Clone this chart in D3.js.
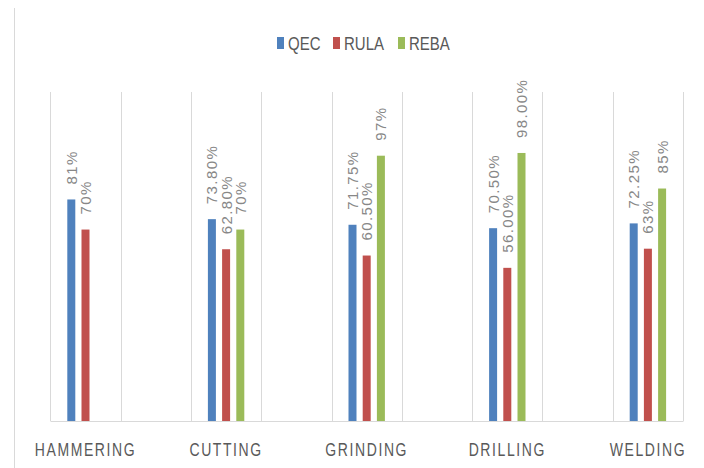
<!DOCTYPE html>
<html>
<head>
<meta charset="utf-8">
<script src="https://cdn.jsdelivr.net/npm/d3@7/dist/d3.min.js"></script>
<style>
  html, body { margin: 0; padding: 0; background: #ffffff; }
  svg { display: block; }
  text { font-family: "Liberation Sans", Arial, sans-serif; }
</style>
</head>
<body>
<svg id="chart" width="704" height="468"></svg>
<script>
// Tasks assessed and the three ergonomic methods compared
const categories = ["HAMMERING", "CUTTING", "GRINDING", "DRILLING", "WELDING"];
const series = ["QEC", "RULA", "REBA"];
const colors = ["#4F81BD", "#C0504D", "#9BBB59"];

// Scores per method (fraction); null = not assessed
const qecValues  = [0.81, 0.738, 0.7175, 0.705, 0.7225];
const rulaValues = [0.70, 0.628, 0.605, 0.56, 0.63];
const rebaValues = [null, 0.70, 0.97, 0.98, 0.85];

// Data labels as shown for each bar
const qecLabels  = ["81%", "73.80%", "71.75%", "70.50%", "72.25%"];
const rulaLabels = ["70%", "62.80%", "60.50%", "56.00%", "63%"];
const rebaLabels = [null, "70%", "97%", "98.00%", "85%"];

const values = [qecValues, rulaValues, rebaValues];
const labels = [qecLabels, rulaLabels, rebaLabels];

const svg = d3.select("#chart");

// Outer frame edge on the left
svg.append("line")
  .attr("x1", 14.5).attr("x2", 14.5)
  .attr("y1", 8).attr("y2", 468)
  .attr("stroke", "#d9d9d9").attr("stroke-width", 1);

const x = d3.scaleBand().domain(categories).range([15.2, 718.2]).padding(0);
const bw = x.bandwidth();
const xs = d3.scalePoint().domain(series).range([-14.2, 14.2]);
const y = d3.scaleLinear().domain([0, 1]).range([421, 147.5]);
const barW = 8;
const gridTop = 92;

// Vertical gridlines between groups
const gridXs = [];
categories.forEach(c => {
  const cx = x(c) + bw / 2;
  gridXs.push(cx - bw / 4, cx + bw / 4);
});
svg.append("g").selectAll("line").data(gridXs).join("line")
  .attr("x1", d => Math.round(d) + 0.5).attr("x2", d => Math.round(d) + 0.5)
  .attr("y1", gridTop).attr("y2", y(0))
  .attr("stroke", "#d9d9d9").attr("stroke-width", 1);

// Category axis line
svg.append("line")
  .attr("x1", Math.round(gridXs[0]) + 0.5)
  .attr("x2", Math.round(gridXs[gridXs.length - 1]) + 0.5)
  .attr("y1", y(0) + 0.5).attr("y2", y(0) + 0.5)
  .attr("stroke", "#d9d9d9").attr("stroke-width", 1.2);

// Bars and rotated value labels
series.forEach((s, si) => {
  const g = svg.append("g");
  const pts = categories.map((c, ci) => ({
    c, v: values[si][ci], lab: labels[si][ci]
  })).filter(d => d.v != null);

  g.selectAll("rect").data(pts).join("rect")
    .attr("x", d => x(d.c) + bw / 2 + xs(s) - barW / 2)
    .attr("y", d => y(d.v))
    .attr("width", barW)
    .attr("height", d => y(0) - y(d.v))
    .attr("fill", colors[si]);

  g.selectAll("text").data(pts).join("text")
    .attr("transform", d => {
      const cx = x(d.c) + bw / 2 + xs(s);
      return `translate(${cx},${y(d.v) - 15}) rotate(-90)`;
    })
    .attr("dy", "0.36em")
    .attr("text-anchor", "start")
    .attr("font-size", 15)
    .attr("letter-spacing", 1.4)
    .attr("fill", "#878787")
    .text(d => d.lab);
});

// Category labels
svg.append("g").selectAll("text").data(categories).join("text")
  .attr("transform", d => `translate(${x(d) + bw / 2},456) scale(1,1.3)`)
  .attr("text-anchor", "middle")
  .attr("font-size", 14)
  .attr("letter-spacing", 1.6)
  .attr("fill", "#595959")
  .text(d => d);

// Legend
const legendX = [277, 333, 398];
const lg = svg.append("g");
series.forEach((s, i) => {
  lg.append("rect")
    .attr("x", legendX[i]).attr("y", 37)
    .attr("width", 7).attr("height", 12)
    .attr("fill", colors[i]);
  lg.append("text")
    .attr("transform", `translate(${legendX[i] + 11},49.5) scale(1,1.25)`)
    .attr("font-size", 15)
    .attr("fill", "#595959")
    .text(s);
});
</script>
</body>
</html>
